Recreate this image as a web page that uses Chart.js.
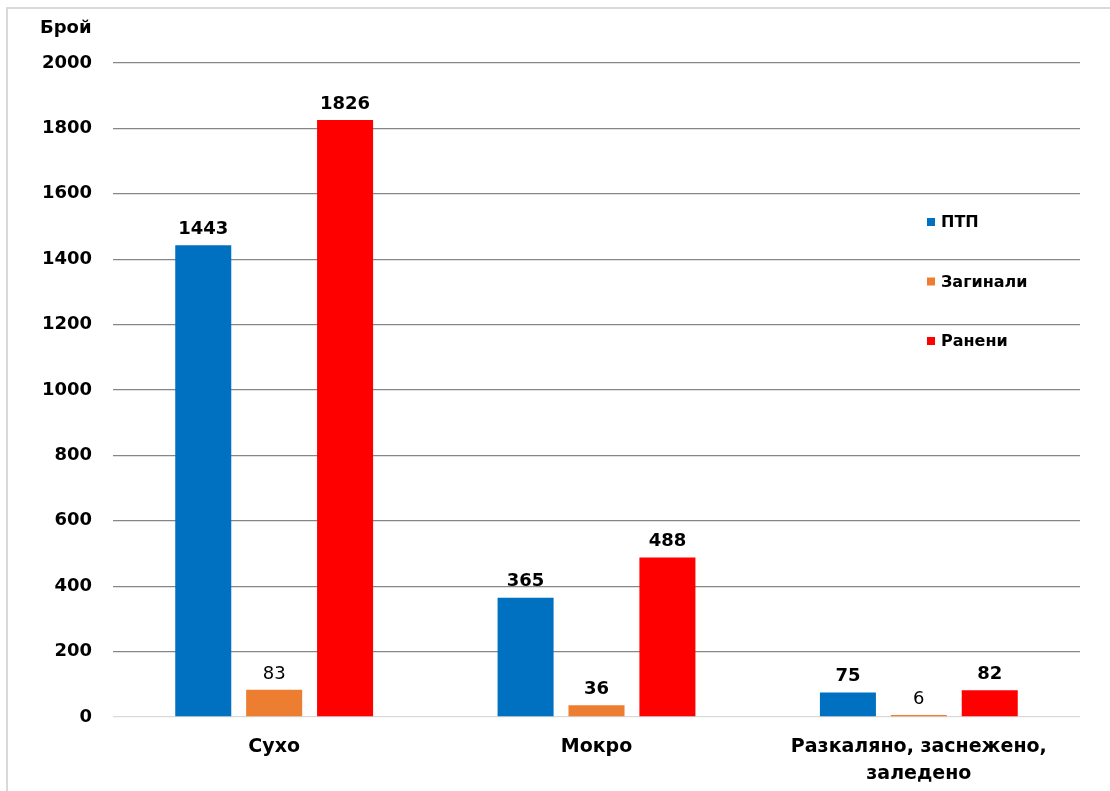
<!DOCTYPE html>
<html>
<head>
<meta charset="utf-8">
<script src="https://cdn.jsdelivr.net/npm/chart.js@4.4.1/dist/chart.umd.min.js"></script>
<style>
  html, body { margin: 0; padding: 0; background: #fff; overflow: hidden; }
  #wrap { position: relative; width: 1110px; height: 791px; }
  #frame { position: absolute; left: 6px; top: 7px; width: 1200px; height: 900px;
           border: 2px solid #d9d9d9; box-sizing: border-box; }
  canvas { position: absolute; left: 0; top: 0; }
</style>
</head>
<body>
<div id="wrap">
  <div id="frame"></div>
  <canvas id="chart" width="1110" height="791"></canvas>
</div>
<script>
const categories = ["Сухо", "Мокро", ["Разкаляно, заснежено,", "заледено"]];
const seriesNames = ["ПТП", "Загинали", "Ранени"];
const ptp = [1443, 365, 75];
const killed = [83, 36, 6];
const injured = [1826, 488, 82];
const colors = ["#0070C0", "#ED7D31", "#FF0000"];
const yTicks = [0, 200, 400, 600, 800, 1000, 1200, 1400, 1600, 1800, 2000];
const FONT = "'DejaVu Sans', sans-serif";

// value labels above the bars
const barLabels = {
  id: "barLabels",
  afterDatasetsDraw(chart) {
    const ctx = chart.ctx;
    ctx.save();
    ctx.fillStyle = "#000";
    ctx.textAlign = "center";
    ctx.textBaseline = "bottom";
    chart.data.datasets.forEach((ds, i) => {
      chart.getDatasetMeta(i).data.forEach((bar, j) => {
        const v = ds.data[j];
        const bold = !(i === 1 && v !== 36);
        ctx.font = (bold ? "bold " : "") + "18px " + FONT;
        ctx.fillText(String(v), bar.x, bar.y - 7);
      });
    });
    ctx.restore();
  }
};

// axis title and legend drawn in the spots the original uses
const extras = {
  id: "extras",
  afterDraw(chart) {
    const ctx = chart.ctx;
    ctx.save();
    ctx.fillStyle = "#000";
    ctx.font = "bold 18px " + FONT;
    ctx.textAlign = "left";
    ctx.textBaseline = "middle";
    ctx.fillText("Брой", 40, 28);

    const area = chart.chartArea;
    const lx = area.right - 153;
    ctx.font = "bold 16px " + FONT;
    chart.data.datasets.forEach((ds, i) => {
      const y = 222 + i * 59.5;
      ctx.fillStyle = ds.backgroundColor;
      ctx.fillRect(lx, y - 4, 8, 8);
      ctx.fillStyle = "#000";
      ctx.fillText(ds.label, lx + 14, y + 1);
    });
    ctx.restore();
  }
};

new Chart(document.getElementById("chart"), {
  type: "bar",
  data: {
    labels: categories,
    datasets: [
      { label: seriesNames[0], data: ptp, backgroundColor: colors[0] },
      { label: seriesNames[1], data: killed, backgroundColor: colors[1] },
      { label: seriesNames[2], data: injured, backgroundColor: colors[2] }
    ]
  },
  options: {
    responsive: false,
    animation: false,
    layout: { padding: { top: 63, right: 30, left: 0, bottom: 0 } },
    datasets: { bar: { categoryPercentage: 0.66, barPercentage: 0.79 } },
    plugins: { legend: { display: false }, tooltip: { enabled: false } },
    scales: {
      x: {
        grid: { display: false, drawTicks: false },
        border: { display: false },
        ticks: { color: "#000", font: { family: FONT, size: 19, weight: "bold", lineHeight: 1.4 }, padding: 17, maxRotation: 0 },
        afterFit(s) { s.height = 74; }
      },
      y: {
        min: 0,
        max: 2000,
        afterBuildTicks(s) { s.ticks = yTicks.map(v => ({ value: v })); },
        grid: {
          drawTicks: false,
          color: c => (c.tick && c.tick.value === 0 ? "#d9d9d9" : "#868686"),
          lineWidth: 1.3
        },
        border: { display: false },
        ticks: { color: "#000", font: { family: FONT, size: 18, weight: "bold" }, padding: 21, callback: v => String(v) },
        afterFit(s) { s.width = 113; }
      }
    }
  },
  plugins: [barLabels, extras]
});
</script>
</body>
</html>
